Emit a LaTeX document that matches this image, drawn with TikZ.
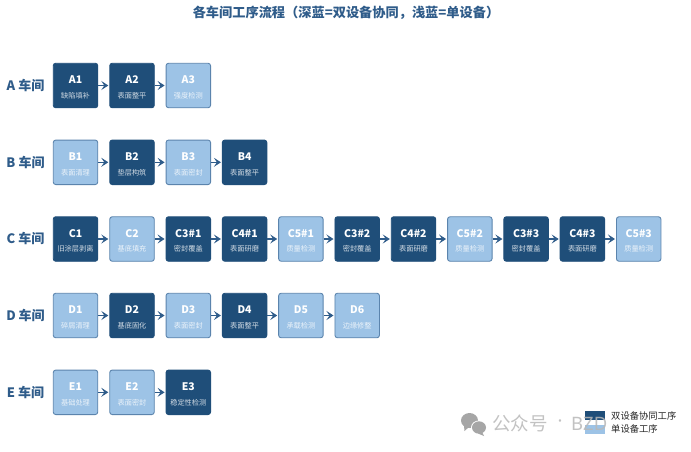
\documentclass[tikz,border=0pt]{standalone}
\usepackage{fontspec}
\setmainfont{Noto Sans CJK SC}
\newfontfamily\dotfont{Noto Sans}
\usetikzlibrary{arrows.meta}
\definecolor{dk}{HTML}{1F4E79}
\definecolor{lt}{HTML}{9DC3E6}
\definecolor{bd}{HTML}{5B84AD}
\definecolor{ttl}{HTML}{2F5C8A}
\definecolor{wmgray}{HTML}{B8B8B8}
\tikzset{
  x=1pt,y=-1pt,
  box/.style={rounded corners=2.5pt,minimum width=44.5pt,minimum height=44.5pt,inner sep=0pt,line width=.9pt},
  dkbox/.style={box,fill=dk,draw=dk},
  ltbox/.style={box,fill=lt,draw=bd},
  flow/.style={draw=ttl,line width=1.4pt,-{Stealth[length=7pt,width=9pt,inset=3pt]},shorten >=1pt},
  rowlabel/.style={font=\fontsize{13}{15}\selectfont\bfseries,text=ttl,anchor=center,inner sep=0pt},
  wmark/.style={font=\fontsize{18.5}{20}\selectfont,text=wmgray,text opacity=.85,inner sep=0pt,anchor=west},
}
\newcommand{\stepnode}[6]{%
  \node[#1] (#2) at (#3,#4) {};
  \node[font=\fontsize{10.5}{12}\selectfont\bfseries,text=white,inner sep=0pt] (#2t) at (#3,#4-5.5) {#5};
  \node[font=\fontsize{7.2}{9}\selectfont,text=white,text opacity=.8,inner sep=0pt] (#2s) at (#3,#4+10.2) {#6};
}
\begin{document}
\begin{tikzpicture}
\useasboundingbox[fill=white] (0,0) rectangle (691,451);
\node[font=\fontsize{13.2}{15}\selectfont\bfseries,text=ttl,inner sep=0pt] (title) at (346,13) {各车间工序流程（深蓝=双设备协同，浅蓝=单设备）};
% rows
\node[rowlabel] (la) at (25.5,85) {A 车间};
\stepnode{dkbox}{a1}{75.5}{85.5}{A1}{缺陷填补}
\stepnode{dkbox}{a2}{132}{85.5}{A2}{表面整平}
\stepnode{ltbox}{a3}{188.3}{85.5}{A3}{强度检测}
\draw[flow] (a1) -- (a2); \draw[flow] (a2) -- (a3);
\node[rowlabel] (lb) at (25.5,162) {B 车间};
\stepnode{ltbox}{b1}{75.5}{162.3}{B1}{表面清理}
\stepnode{dkbox}{b2}{132}{162.3}{B2}{垫层构筑}
\stepnode{ltbox}{b3}{188.3}{162.3}{B3}{表面密封}
\stepnode{dkbox}{b4}{244.6}{162.3}{B4}{表面整平}
\draw[flow] (b1) -- (b2); \draw[flow] (b2) -- (b3); \draw[flow] (b3) -- (b4);
\node[rowlabel] (lc) at (25.5,238.5) {C 车间};
\stepnode{dkbox}{c1}{75.5}{239}{C1}{旧涂层剥离}
\stepnode{ltbox}{c2}{132}{239}{C2}{基底填充}
\stepnode{dkbox}{c3}{188.3}{239}{C3\#1}{密封覆盖}
\stepnode{dkbox}{c4}{244.6}{239}{C4\#1}{表面研磨}
\stepnode{ltbox}{c5}{300.9}{239}{C5\#1}{质量检测}
\stepnode{dkbox}{c6}{357.2}{239}{C3\#2}{密封覆盖}
\stepnode{dkbox}{c7}{413.5}{239}{C4\#2}{表面研磨}
\stepnode{ltbox}{c8}{469.8}{239}{C5\#2}{质量检测}
\stepnode{dkbox}{c9}{526.1}{239}{C3\#3}{密封覆盖}
\stepnode{dkbox}{c10}{582.4}{239}{C4\#3}{表面研磨}
\stepnode{ltbox}{c11}{638.7}{239}{C5\#3}{质量检测}
\draw[flow] (c1) -- (c2); \draw[flow] (c2) -- (c3); \draw[flow] (c3) -- (c4); \draw[flow] (c4) -- (c5); \draw[flow] (c5) -- (c6); \draw[flow] (c6) -- (c7); \draw[flow] (c7) -- (c8); \draw[flow] (c8) -- (c9); \draw[flow] (c9) -- (c10); \draw[flow] (c10) -- (c11);
\node[rowlabel] (ld) at (25.5,315.5) {D 车间};
\stepnode{ltbox}{d1}{75.5}{315.5}{D1}{碎屑清理}
\stepnode{dkbox}{d2}{132}{315.5}{D2}{基底固化}
\stepnode{ltbox}{d3}{188.3}{315.5}{D3}{表面密封}
\stepnode{dkbox}{d4}{244.6}{315.5}{D4}{表面整平}
\stepnode{ltbox}{d5}{300.9}{315.5}{D5}{承载检测}
\stepnode{ltbox}{d6}{357.2}{315.5}{D6}{边缘修整}
\draw[flow] (d1) -- (d2); \draw[flow] (d2) -- (d3); \draw[flow] (d3) -- (d4); \draw[flow] (d4) -- (d5); \draw[flow] (d5) -- (d6);
\node[rowlabel] (le) at (25.5,392) {E 车间};
\stepnode{ltbox}{e1}{75.5}{392.3}{E1}{基础处理}
\stepnode{ltbox}{e2}{132}{392.3}{E2}{表面密封}
\stepnode{dkbox}{e3}{188.3}{392.3}{E3}{稳定性检测}
\draw[flow] (e1) -- (e2); \draw[flow] (e2) -- (e3);
% legend bars
\node[fill=dk,minimum width=20pt,minimum height=8.5pt,inner sep=0pt] (k1) at (594.5,415.3) {};
\node[fill=lt,minimum width=20pt,minimum height=9pt,inner sep=0pt] (k2) at (594.5,429) {};
% watermark over the bars
\fill[black!35] (469.5,420.5) ellipse [x radius=8.5pt, y radius=7.5pt];
\fill[black!35] (464,426) -- (464.5,431) -- (469,427) -- cycle;
\fill[white] (479,427.5) ellipse [x radius=8pt, y radius=7pt];
\fill[black!35] (479,427.5) ellipse [x radius=7pt, y radius=6.2pt];
\fill[black!35] (482,432) -- (484,436) -- (478,433.5) -- cycle;
\node[wmark] (wm1) at (492,423.5) {公众号};
\node[wmark,anchor=center,font=\fontsize{18.5}{20}\selectfont\dotfont] (wm2) at (560,423.5) {·};
\node[wmark,font=\fontsize{18.5}{20}\selectfont\dotfont] (wm3) at (571,423.5) {BZD};
% legend texts
\node[font=\fontsize{9.3}{11}\selectfont,text=black!85,inner sep=0pt,anchor=west] (k1t) at (611,415.5) {双设备协同工序};
\node[font=\fontsize{9.3}{11}\selectfont,text=black!85,inner sep=0pt,anchor=west] (k2t) at (611,429) {单设备工序};
\end{tikzpicture}
\end{document}
